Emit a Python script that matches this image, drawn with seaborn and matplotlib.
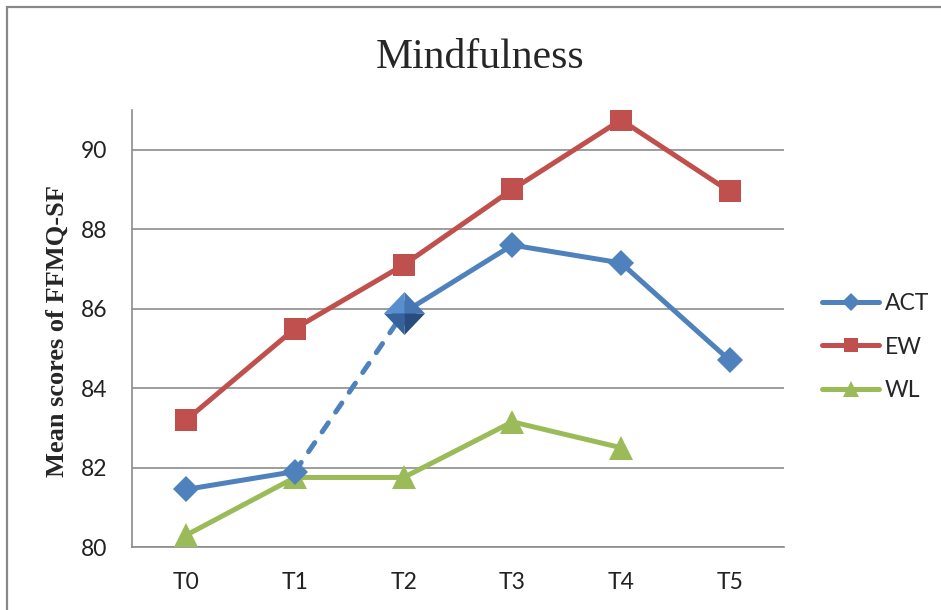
import numpy as np
import pandas as pd
import seaborn as sns
import matplotlib
matplotlib.use("Agg")
import matplotlib.pyplot as plt
from matplotlib.lines import Line2D
from matplotlib.patches import Rectangle

# Assessment points and group means
times = ["T0", "T1", "T2", "T3", "T4", "T5"]
act = [81.45, 81.9, 85.9, 87.6, 87.15, 84.7]
ew = [83.2, 85.5, 87.1, 89.0, 90.75, 88.95]
wl = [80.3, 81.75, 81.75, 83.15, 82.5, np.nan]
yticks = [80, 82, 84, 86, 88, 90]

groups = ["ACT", "EW", "WL"]
colors = {"ACT": "#4F81BD", "EW": "#C0504D", "WL": "#9BBB59"}

sns.set_style("white")
plt.rcParams["font.family"] = ["Lato", "DejaVu Sans"]

fig = plt.figure(figsize=(9.41, 6.10), dpi=100)
ax = fig.add_axes([132 / 941, 1 - 547 / 610, 652 / 941, 437 / 610])

idx = np.arange(len(times))
df = pd.DataFrame({"t": np.tile(idx, 3),
                   "score": act + ew + wl,
                   "group": np.repeat(groups, len(times))})

lw = 3.6
# EW and WL: solid lines with markers
sns.lineplot(data=df[df.group == "EW"].dropna(), x="t", y="score", ax=ax,
             color=colors["EW"], lw=lw, marker="s", ms=16, mec=colors["EW"],
             mew=0, zorder=3)
sns.lineplot(data=df[df.group == "WL"].dropna(), x="t", y="score", ax=ax,
             color=colors["WL"], lw=lw, marker="^", ms=17, mec=colors["WL"],
             mew=0, zorder=3)

# ACT: solid before T1 and after T2, dashed between T1 and T2
act_df = df[df.group == "ACT"]
sns.lineplot(data=act_df[act_df.t <= 1], x="t", y="score", ax=ax,
             color=colors["ACT"], lw=lw, marker="D", ms=13, mew=0, zorder=4)
sns.lineplot(data=act_df[(act_df.t >= 1) & (act_df.t <= 2)], x="t", y="score",
             ax=ax, color=colors["ACT"], lw=lw, ls=(0, (2.2, 2.6)),
             dash_capstyle="round", zorder=3)
sns.lineplot(data=act_df[act_df.t >= 2], x="t", y="score", ax=ax,
             color=colors["ACT"], lw=lw, marker="D", ms=13, mew=0, zorder=4)

# Highlighted T2 point as a faceted diamond
facets = [
    ([(0, 0), (-1, 0), (0, 1.05)], "#5A8FCF"),
    ([(0, 0), (0, 1.05), (1, 0)], "#4576B3"),
    ([(0, 0), (-1, 0), (0, -1.05)], "#35629A"),
    ([(0, 0), (1, 0), (0, -1.05)], "#284D7C"),
]
for verts, fc in facets:
    ax.plot([idx[2]], [act[2]], marker=verts, ms=31, mfc=fc, mec="none",
            ls="none", zorder=6)

ax.set_xlim(-0.5, 5.5)
ax.set_ylim(80, 91)
ax.set_xticks(idx)
ax.set_xticklabels(times)
ax.set_yticks(yticks)
ax.set_yticklabels([str(v) for v in yticks])
ax.tick_params(axis="both", length=0, labelsize=16.5, colors="#222222")
ax.tick_params(axis="y", pad=18)
ax.tick_params(axis="x", pad=18)
ax.set_xlabel("")
ax.set_ylabel("")
ax.grid(axis="y", color="#8C8C8C", lw=1.2)
ax.grid(axis="x", visible=False)
ax.set_axisbelow(True)
for side in ["top", "right"]:
    ax.spines[side].set_visible(False)
for side in ["left", "bottom"]:
    ax.spines[side].set_color("#8C8C8C")
    ax.spines[side].set_linewidth(1.2)

fig.text(480 / 941, 1 - 68 / 610, "Mindfulness", ha="center", va="baseline",
         fontsize=30, family=["Liberation Serif", "DejaVu Serif"])
fig.text(57 / 941, 1 - 331 / 610, "Mean scores of FFMQ-SF", rotation=90,
         ha="center", va="center", fontsize=19, fontweight="bold",
         family=["Liberation Serif", "DejaVu Serif"])

handles = [
    Line2D([], [], color=colors["ACT"], lw=lw, marker="D", ms=9, mew=0),
    Line2D([], [], color=colors["EW"], lw=lw, marker="s", ms=10, mew=0),
    Line2D([], [], color=colors["WL"], lw=lw, marker="^", ms=11, mew=0),
]
fig.legend(handles, groups, loc="center left",
           bbox_to_anchor=(822 / 941, 1 - 347 / 610), frameon=False,
           fontsize=16.5, handlelength=2.5, handletextpad=0.25,
           labelspacing=1.0, borderpad=0, borderaxespad=0)

# Outer chart frame
fig.patches.append(Rectangle((7 / 941, -0.2), 1.2, 1.2 - 7 / 610,
                             transform=fig.transFigure, fill=False,
                             ec="#888888", lw=1.6))

fig.savefig("out.png", dpi=100)
